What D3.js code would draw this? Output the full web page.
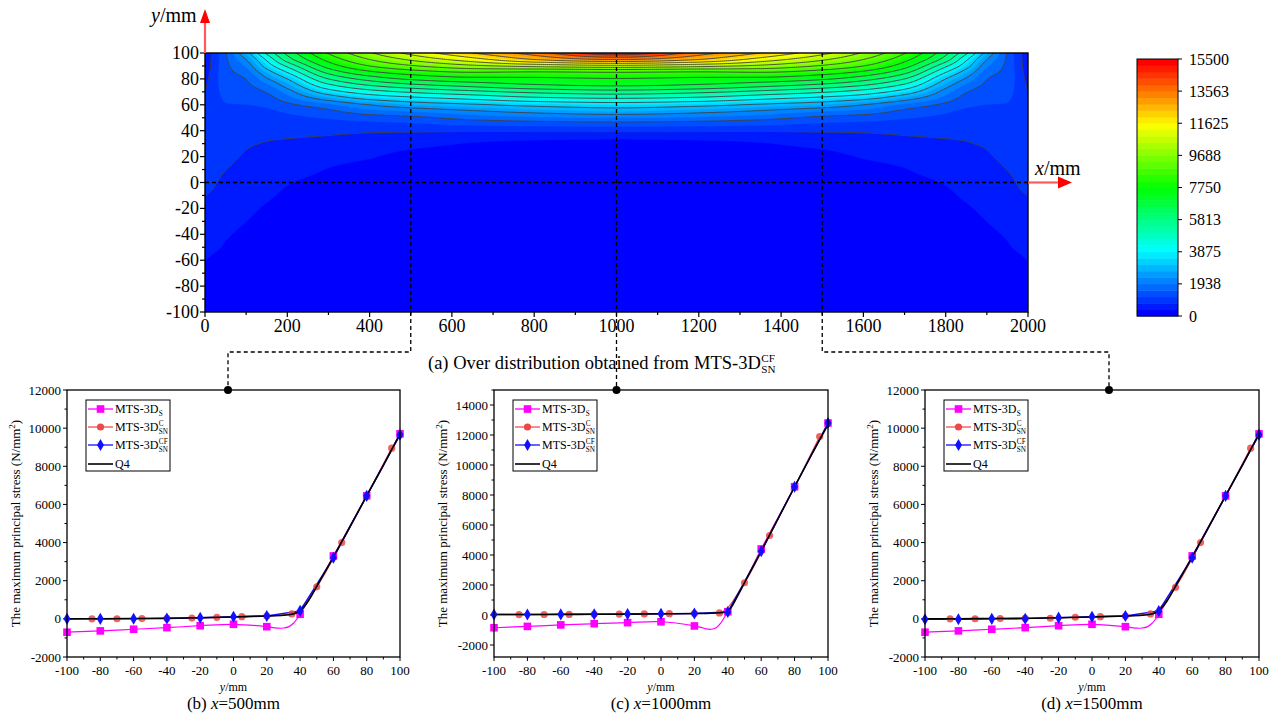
<!DOCTYPE html>
<html><head><meta charset="utf-8">
<script src="https://cdn.jsdelivr.net/npm/d3@7"></script>
<style>
body{margin:0;background:#fff}
svg{display:block}
text{font-family:"Liberation Serif","Times New Roman",serif;fill:#000}
</style>
</head><body>
<svg id="c" width="1282" height="724"></svg>
<script>
// ================= DATA =================
// (a) stress field, symmetric about x=1000 mm; columns at fieldX, values along fieldY
const fieldX = [0,10,25,50,100,150,200,300,400,500,650,800,1000];
const fieldY = [-100,-60,-20,0,20,30,35,40,45,50,55,60,65,70,75,80,85,90,95,100];
const fieldCols = [
 [300,390,700,850,950,980,990,1000,1000,990,960,900,840,775,700,620,550,480,430,400],
 [300,380,690,830,950,990,1010,1030,1040,1050,1050,1030,990,940,880,800,750,700,680,650],
 [290,360,680,790,930,980,1000,1010,1030,1050,1070,1080,1090,1090,1080,1070,1040,1010,980,960],
 [280,340,520,700,860,930,960,1000,1030,1070,1110,1150,1190,1240,1290,1340,1390,1430,1470,1500],
 [250,310,430,600,740,810,850,900,950,1010,1080,1160,1250,1350,1470,1560,1750,2000,2330,2810],
 [220,280,370,480,650,760,800,850,920,1000,1100,1230,1400,1580,1850,2250,2750,3400,4000,4810],
 [200,250,330,400,620,730,790,860,950,1070,1220,1450,1780,2100,2550,3100,3875,4800,5800,6430],
 [180,220,290,340,450,640,750,850,1000,1200,1450,1850,2600,3500,4450,5425,6400,7300,8000,8590],
 [160,200,260,310,400,560,680,830,1050,1350,1800,2325,3300,4300,5425,6500,7550,8525,9300,9980],
 [150,180,240,290,340,450,600,830,1100,1450,1950,2700,3650,4750,5950,7100,8100,9200,10200,11085],
 [130,160,210,260,320,380,450,830,1250,1700,2250,3000,4050,5200,6450,7500,8500,9900,11300,12400],
 [110,150,200,245,305,360,430,840,1320,1850,2500,3300,4450,5600,6850,7580,8400,10300,12400,13560],
 [100,140,190,240,300,350,420,850,1350,1950,2700,3500,4650,5850,7050,7700,8500,10600,13200,15300]
];
const colorbarTicks = [0,1938,3875,5813,7750,9688,11625,13563,15500];
const colorMax = 15500, bandCount = 40;

// (b)-(d) line charts
const posS = [-100,-80,-60,-40,-20,0,20,40,60,80,100];          // MTS-3D_S and MTS-3D_SN^CF markers
const posC = [-85,-70,-55,-40,-25,-10,5,20,35,50,65,80,95];      // MTS-3D_SN^C markers
const sLineY = [-100,-80,-60,-40,-20,0,20,24,27,30,33,36,38,40,45,50,60,80,100];
const q4Y = [-100,-80,-60,-40,-20,0,20,30,35,38,40,42,45,50,60,70,80,90,100];
// x = 500 mm
const b_S  = [-700,-630,-545,-460,-360,-285,-410,240,3300,6450,9700];
const b_SLine = [-700,-630,-545,-460,-360,-285,-410,-460,-490,-480,-420,-230,-20,240,950,1700,3300,6450,9700];
const b_CF = [0,0,10,20,60,110,150,420,3200,6450,9650];
const b_C  = [0,5,15,25,40,80,115,150,260,1680,4000,6450,8950];
const b_Q4 = [0,5,15,30,60,100,150,190,240,320,420,600,950,1700,3250,4850,6450,8050,9700];
// x = 1000 mm
const c_S  = [-850,-760,-660,-580,-510,-450,-730,220,4400,8550,12800];
const c_SLine = [-850,-760,-660,-580,-510,-450,-730,-830,-920,-950,-850,-500,-150,220,1100,2150,4400,8550,12800];
const c_CF = [30,35,40,50,60,80,100,200,4250,8550,12800];
const c_C  = [30,35,40,50,60,70,90,100,140,2150,5300,8550,11900];
const c_Q4 = [30,35,40,50,60,80,100,120,150,180,250,500,1100,2150,4250,6400,8550,10650,12700];
// x = 1500 mm
const d_S  = [-700,-630,-545,-460,-360,-285,-410,240,3300,6450,9700];
const d_SLine = [-700,-630,-545,-460,-360,-285,-410,-460,-490,-480,-420,-230,-20,240,950,1700,3300,6450,9700];
const d_CF = [-20,-20,0,10,63,115,152,414,3200,6450,9650];
const d_C  = [0,5,15,25,31,84,115,150,257,1657,4000,6450,8950];
const d_Q4 = [0,5,15,30,60,100,150,190,240,320,420,600,950,1700,3250,4850,6450,8050,9700];

// ================= DRAWING =================
const svg = d3.select("#c");
const cx0=205, cx1=1028, cy0=53, cy1=312;
const sx = d3.scaleLinear().domain([0,2000]).range([cx0,cx1]);
const sy = d3.scaleLinear().domain([-100,100]).range([cy1,cy0]);
const pal = d3.scaleLinear().domain([0,0.25,0.5,0.75,1])
  .range(["#0000ff","#00ffff","#00ff00","#ffff00","#ff0000"]);

function pchip(xs, ys){
  const n=xs.length,h=[],d=[],m=new Array(n);
  for(let i=0;i<n-1;i++){h[i]=xs[i+1]-xs[i];d[i]=(ys[i+1]-ys[i])/h[i];}
  m[0]=d[0]; m[n-1]=d[n-2];
  for(let i=1;i<n-1;i++){
    if(d[i-1]*d[i]<=0) m[i]=0;
    else {const w1=2*h[i]+h[i-1], w2=h[i]+2*h[i-1]; m[i]=(w1+w2)/(w1/d[i-1]+w2/d[i]);}
  }
  return x=>{
    let i=d3.bisectRight(xs,x)-1; i=Math.max(0,Math.min(n-2,i));
    const t=(x-xs[i])/h[i],t2=t*t,t3=t2*t;
    return (2*t3-3*t2+1)*ys[i]+(t3-2*t2+t)*h[i]*m[i]+(-2*t3+3*t2)*ys[i+1]+(t3-t2)*h[i]*m[i+1];
  };
}
const fullX = fieldX.concat(fieldX.slice(0,-1).reverse().map(x=>2000-x));
const fullCols = fieldCols.concat(fieldCols.slice(0,-1).reverse());
const colFns = fullCols.map(c=>pchip(fieldY,c));
const nx=401, ny=201, stepX=5, stepY=1;
const grid = new Float64Array(nx*ny);
for(let j=0;j<ny;j++){
  const y=-100+j*stepY;
  const rf=pchip(fullX, colFns.map(f=>f(y)));
  for(let i=0;i<nx;i++) grid[j*nx+i]=rf(i*stepX);
}
const proj = d3.geoTransform({point(x,y){this.stream.point(sx((x-0.5)*stepX), sy(-100+(y-0.5)*stepY));}});
const gpath = d3.geoPath(proj);
const cgen = d3.contours().size([nx,ny]);

svg.append("defs").append("clipPath").attr("id","clipA")
  .append("rect").attr("x",cx0).attr("y",cy0).attr("width",cx1-cx0).attr("height",cy1-cy0);
const gA = svg.append("g").attr("clip-path","url(#clipA)");
gA.append("rect").attr("x",cx0).attr("y",cy0).attr("width",cx1-cx0).attr("height",cy1-cy0).attr("fill",pal(0));
const bandStep = colorMax/bandCount;
for(let i=1;i<bandCount;i++){
  gA.append("path").attr("d",gpath(cgen.contour(grid,i*bandStep)))
    .attr("fill",pal(i/(bandCount-1))).attr("fill-rule","evenodd").attr("stroke",pal(i/(bandCount-1))).attr("stroke-width",0.3);
}
for(let k=1;k<20;k++){
  gA.append("path").attr("d",gpath(cgen.contour(grid,k*bandStep*2)))
    .attr("fill","none").attr("stroke","#404040").attr("stroke-width",0.9);
}
// frame
svg.append("rect").attr("x",cx0).attr("y",cy0).attr("width",cx1-cx0).attr("height",cy1-cy0)
  .attr("fill","none").attr("stroke","#000").attr("stroke-width",1.4);
// axis ticks (a)
const gax = svg.append("g");
d3.range(-100,101,10).forEach(v=>{
  const maj=v%20===0;
  gax.append("line").attr("x1",cx0).attr("x2",cx0-(maj?5:3)).attr("y1",sy(v)).attr("y2",sy(v)).attr("stroke","#000").attr("stroke-width",1.2);
  if(maj) gax.append("text").attr("x",cx0-6).attr("y",sy(v)+6).attr("text-anchor","end").style("font-size","18px").text(String(v));
});
d3.range(0,2001,100).forEach(v=>{
  const maj=v%200===0;
  gax.append("line").attr("x1",sx(v)).attr("x2",sx(v)).attr("y1",cy1).attr("y2",cy1+(maj?5:3)).attr("stroke","#000").attr("stroke-width",1.2);
  if(maj) gax.append("text").attr("x",sx(v)).attr("y",cy1+20).attr("text-anchor","middle").style("font-size","18px").text(String(v));
});
// dashed guides
const dash={stroke:"#000","stroke-width":1.3,"stroke-dasharray":"4,3",fill:"none"};
function dpath(d){const p=svg.append("path").attr("d",d);Object.entries(dash).forEach(([k,v])=>p.attr(k,v));}
dpath(`M${sx(0)},${sy(0)}H${sx(2000)}`);
dpath(`M${sx(500)},${cy0}V352H228V390`);
dpath(`M${sx(1000)},${cy0}V390`);
dpath(`M${sx(1500)},${cy0}V352H1109V390`);
[[228,390],[sx(1000),390],[1109,390]].forEach(p=>svg.append("circle").attr("cx",p[0]).attr("cy",p[1]).attr("r",4).attr("fill","#000"));
// red arrows
svg.append("line").attr("x1",cx0).attr("x2",cx0).attr("y1",cy0).attr("y2",22).attr("stroke","#ff5a5a").attr("stroke-width",2.2);
svg.append("path").attr("d",`M${cx0-5},23L${cx0},9L${cx0+5},23Z`).attr("fill","#ff0000");
svg.append("line").attr("x1",cx1).attr("x2",1059).attr("y1",sy(0)).attr("y2",sy(0)).attr("stroke","#ff5a5a").attr("stroke-width",2.2);
svg.append("path").attr("d",`M1058,${sy(0)-6}L1072,${sy(0)}L1058,${sy(0)+6}Z`).attr("fill","#ff0000");
const yl=svg.append("text").attr("x",151).attr("y",22).style("font-size","20px");
yl.append("tspan").style("font-style","italic").text("y");yl.append("tspan").text("/mm");
const xl=svg.append("text").attr("x",1035).attr("y",175).style("font-size","20px");
xl.append("tspan").style("font-style","italic").text("x");xl.append("tspan").text("/mm");

// colorbar
const cbx=1137, cbw=41, cby0=59, cby1=316;
const cbs=d3.scaleLinear().domain([0,colorMax]).range([cby1,cby0]);
for(let i=0;i<bandCount;i++){
  svg.append("rect").attr("x",cbx).attr("width",cbw).attr("y",cbs((i+1)*bandStep)).attr("height",cbs(i*bandStep)-cbs((i+1)*bandStep)+0.5)
    .attr("fill",pal(i/(bandCount-1)));
}
svg.append("rect").attr("x",cbx).attr("y",cby0).attr("width",cbw).attr("height",cby1-cby0).attr("fill","none").attr("stroke","#000").attr("stroke-width",1);
colorbarTicks.forEach(v=>{
  const y=cbs(v);
  svg.append("line").attr("x1",cbx+cbw).attr("x2",cbx+cbw+4).attr("y1",y).attr("y2",y).attr("stroke","#000");
  svg.append("text").attr("x",cbx+cbw+11).attr("y",y+5.5).style("font-size","16px").text(String(v));
});

// mixed label helper: MTS-3D with sub/sup
function mts(g,x,y,size,sup,sub){
  const t=g.append("text").attr("x",x).attr("y",y).style("font-size",size+"px").text("MTS-3D");
  const w=t.node().getComputedTextLength();
  if(sup) g.append("text").attr("x",x+w+0.5).attr("y",y-size*0.4).style("font-size",(size*0.6)+"px").text(sup);
  if(sub) g.append("text").attr("x",x+w+0.5).attr("y",y+size*0.22).style("font-size",(size*0.6)+"px").text(sub);
  return w;
}
// caption (a)
const capA=svg.append("text").attr("x",428).attr("y",369).style("font-size","18.5px").text("(a) Over distribution obtained from");
const capW=capA.node().getComputedTextLength();
mts(svg,428+capW+5,369,18.5,"CF","SN");

// ---------- line panels ----------
const colS="#ff00ff", colC="#f05050", colCF="#1010ff", colQ="#000";
function panel(x0,x1,yDom,ticksY,caption,S,SLine,C,CF,Q){
  const py0=390, py1=657;
  const X=d3.scaleLinear().domain([-100,100]).range([x0,x1]);
  const Y=d3.scaleLinear().domain(yDom).range([py1,py0]);
  const g=svg.append("g");
  d3.range(-100,101,10).forEach(v=>{
    const maj=v%20===0;
    g.append("line").attr("x1",X(v)).attr("x2",X(v)).attr("y1",py1).attr("y2",py1+(maj?4:2.5)).attr("stroke","#000");
    if(maj) g.append("text").attr("x",X(v)).attr("y",py1+18).attr("text-anchor","middle").style("font-size","13px").text(String(v));
  });
  const ymin=Math.ceil(yDom[0]/1000)*1000;
  d3.range(ymin,yDom[1]+1,1000).forEach(v=>{
    const maj=v%2000===0;
    g.append("line").attr("x1",x0).attr("x2",x0-(maj?4:2.5)).attr("y1",Y(v)).attr("y2",Y(v)).attr("stroke","#000");
    if(maj && ticksY.includes(v)) g.append("text").attr("x",x0-6).attr("y",Y(v)+4.5).attr("text-anchor","end").style("font-size","13px").text(String(v));
  });
  const xt=g.append("text").attr("x",(x0+x1)/2).attr("y",691).attr("text-anchor","middle").style("font-size","12px");
  xt.append("tspan").style("font-style","italic").text("y");xt.append("tspan").text("/mm");
  const yt=g.append("text").attr("transform",`translate(${x0-47},${(py0+py1)/2}) rotate(-90)`).attr("text-anchor","middle").style("font-size","13px");
  yt.append("tspan").text("The maximum principal stress (N/mm");
  yt.append("tspan").attr("dy",-5).style("font-size","9px").text("2");
  yt.append("tspan").attr("dy",5).text(")");
  const cp=g.append("text").attr("x",(x0+x1)/2).attr("y",709).attr("text-anchor","middle").style("font-size","17px");
  cp.append("tspan").text(caption[0]);cp.append("tspan").style("font-style","italic").text("x");cp.append("tspan").text(caption[1]);
  // lines
  const ln=d3.line().curve(d3.curveCatmullRom.alpha(0.5));
  const lnM=d3.line().curve(d3.curveMonotoneX);
  const lnL=d3.line();
  g.append("path").attr("d",ln(sLineY.map((y,i)=>[X(y),Y(SLine[i])]))).attr("fill","none").attr("stroke",colS).attr("stroke-width",1.2);
  g.append("path").attr("d",lnM(posC.map((y,i)=>[X(y),Y(C[i])]))).attr("fill","none").attr("stroke",colC).attr("stroke-width",1.2);
  g.append("path").attr("d",lnL(posS.map((y,i)=>[X(y),Y(CF[i])]))).attr("fill","none").attr("stroke",colCF).attr("stroke-width",1.4);
  posC.forEach((y,i)=>g.append("circle").attr("cx",X(y)).attr("cy",Y(C[i])).attr("r",3.6).attr("fill","#ec4848").attr("opacity",0.85));
  posS.forEach((y,i)=>g.append("rect").attr("x",X(y)-3.8).attr("y",Y(S[i])-3.8).attr("width",7.6).attr("height",7.6).attr("fill",colS));
  const dia=d3.symbol().type(d3.symbolDiamond).size(42);
  g.append("path").attr("d",ln(q4Y.map((y,i)=>[X(y),Y(Q[i])]))).attr("fill","none").attr("stroke",colQ).attr("stroke-width",1.6);
  posS.forEach((y,i)=>g.append("path").attr("d",dia()).attr("transform",`translate(${X(y)},${Y(CF[i])})`).attr("fill",colCF));
  g.append("rect").attr("x",x0).attr("y",py0).attr("width",x1-x0).attr("height",py1-py0).attr("fill","none").attr("stroke","#000").attr("stroke-width",1.3);
  // legend
  const lx=x0+19, ly=400;
  g.append("rect").attr("x",lx).attr("y",ly).attr("width",84).attr("height",71).attr("fill","#fff").attr("stroke","#000").attr("stroke-width",1);
  const rows=[409,427,445,464];
  const lcol=[colS,colC,colCF,colQ];
  rows.forEach((ry,i)=>{
    g.append("line").attr("x1",lx+2).attr("x2",lx+27).attr("y1",ry).attr("y2",ry).attr("stroke",lcol[i]).attr("stroke-width",i===3?1.6:1.3);
  });
  g.append("rect").attr("x",lx+14.5-3.8).attr("y",rows[0]-3.8).attr("width",7.6).attr("height",7.6).attr("fill",colS);
  g.append("circle").attr("cx",lx+14.5).attr("cy",rows[1]).attr("r",3.6).attr("fill","#ec4848");
  g.append("path").attr("d",dia()).attr("transform",`translate(${lx+14.5},${rows[2]})`).attr("fill",colCF);
  mts(g,lx+29,rows[0]+4,12,null,"S");
  mts(g,lx+29,rows[1]+4,12,"C","SN");
  mts(g,lx+29,rows[2]+4,12,"CF","SN");
  g.append("text").attr("x",lx+29).attr("y",rows[3]+4).style("font-size","12px").text("Q4");
}
const ticks12=d3.range(-2000,12001,2000), ticks14=d3.range(-2000,14001,2000);
panel(67,400,[-2000,12000],ticks12,["(b) ","=500mm"],b_S,b_SLine,b_C,b_CF,b_Q4);
panel(494,828,[-2800,15000],ticks14,["(c) ","=1000mm"],c_S,c_SLine,c_C,c_CF,c_Q4);
panel(925,1259,[-2000,12000],ticks12,["(d) ","=1500mm"],d_S,d_SLine,d_C,d_CF,d_Q4);
</script>
</body></html>
